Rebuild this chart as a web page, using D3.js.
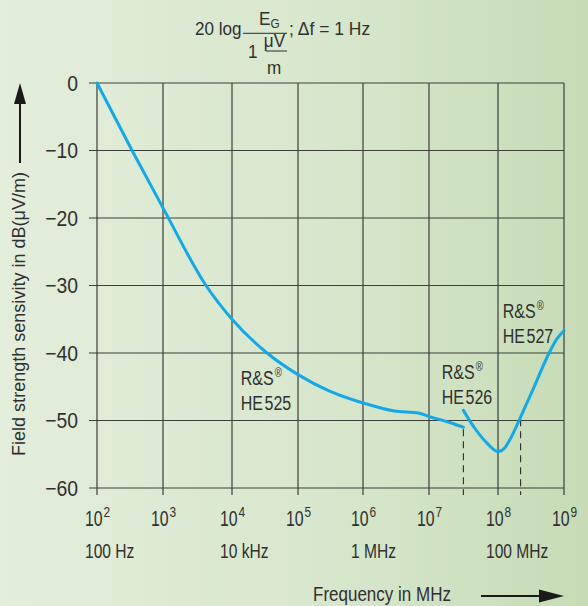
<!DOCTYPE html>
<html><head><meta charset="utf-8">
<script src="https://cdn.jsdelivr.net/npm/d3@7"></script>
<style>
html,body{margin:0;padding:0;}
body{width:588px;height:606px;overflow:hidden;}
text{font-family:"Liberation Sans","Arial",sans-serif;fill:#303030;}
</style></head><body><svg id="c" width="588" height="606"></svg>
<script>
// ---- data ----
const decadeFreqs = [1e2, 1e3, 1e4, 1e5, 1e6, 1e7, 1e8, 1e9];
const decadeExps  = ["2", "3", "4", "5", "6", "7", "8", "9"];
const unitFreqs   = [1e2, 1e4, 1e6, 1e8];
const unitTexts   = ["100 Hz", "10 kHz", "1 MHz", "100 MHz"];
const levelTicks  = [0, -10, -20, -30, -40, -50, -60];

const he525Freq  = [1e2, 3.4e2, 1e3, 4.2e3, 1e4, 3.4e4, 1e5, 3e5, 1e6, 3e6, 6.9e6, 1e7, 2e7, 3.15e7];
const he525Level = [0, -10, -18.5, -30, -35, -40, -43.2, -45.6, -47.4, -48.6, -48.9, -49.4, -50.3, -51];

const he526Freq  = [3.15e7, 4.5e7, 7e7, 1e8, 1.25e8, 1.6e8, 2.2e8, 3.5e8, 5.5e8, 7.8e8, 1e9];
const he526Level = [-48.5, -51, -53.4, -54.6, -54.1, -52.4, -49.5, -45.1, -40.7, -37.9, -36.7];

const boundaryFreq  = [3.15e7, 2.2e8];
const boundaryLevel = [-51, -49.5];

const labelName  = ["HE", "HE", "HE"];
const labelModel = ["525", "526", "527"];
const labelFreq  = [1.355e4, 1.53e7, 1.18e8];
const labelLevel = [-44.7, -43.85, -34.77];

// ---- scales ----
const x = d3.scaleLog().domain(decadeFreqs).range([97, 163, 232, 298, 363, 429, 498, 564]);
const y = d3.scaleLinear().domain([0, -60]).range([83, 488]);

const svg = d3.select("#c");
const defs = svg.append("defs");
const grad = defs.append("linearGradient").attr("id", "bg").attr("x1", "0").attr("x2", "1").attr("y1", "0").attr("y2", "0");
grad.append("stop").attr("offset", "0").attr("stop-color", "#e3eedb");
grad.append("stop").attr("offset", "0.6").attr("stop-color", "#d6e6cb");
grad.append("stop").attr("offset", "1").attr("stop-color", "#c6dbb6");
svg.append("rect").attr("width", 588).attr("height", 606).attr("fill", "url(#bg)");

// condensed text helper
function T(parent, tx, ty, str, size, sx, anchor) {
  const gg = parent.append("g").attr("transform", `translate(${tx},${ty}) scale(${sx},1)`);
  const t = gg.append("text").attr("font-size", size).attr("text-anchor", anchor || "start");
  if (str !== null) t.text(str);
  return t;
}

const gridCol = "#3c3f3a";
const g = svg.append("g");
g.selectAll("line.h").data(levelTicks).join("line")
  .attr("x1", x(1e2) - 8).attr("x2", x(1e9))
  .attr("y1", d => y(d)).attr("y2", d => y(d))
  .attr("stroke", gridCol).attr("stroke-width", 1.2);
g.selectAll("line.v").data(decadeFreqs).join("line")
  .attr("x1", d => x(d)).attr("x2", d => x(d))
  .attr("y1", y(0)).attr("y2", y(-60) + 7)
  .attr("stroke", gridCol).attr("stroke-width", 1.2);

// y tick labels
levelTicks.forEach(v => {
  T(svg, 78, y(v) + 7.9, v === 0 ? "0" : "\u2212" + Math.abs(v), 22, 0.88, "end");
});

// x tick labels
decadeFreqs.forEach((f, i) => {
  T(svg, x(f) - 12, 525.5, "10", 22, 0.72);
  T(svg, x(f) + 6.5, 517, decadeExps[i], 14, 0.85);
});
unitFreqs.forEach((f, i) => {
  T(svg, x(f) - 12, 558, unitTexts[i], 20, 0.78);
});

// boundary dashed lines
svg.selectAll("line.b").data(boundaryFreq).join("line")
  .attr("x1", d => x(d)).attr("x2", d => x(d))
  .attr("y1", (d, i) => y(boundaryLevel[i]) + 2).attr("y2", y(-60) + 7)
  .attr("stroke", "#2b2b2b").attr("stroke-width", 1.1).attr("stroke-dasharray", "7,5");

// curves
const line = d3.line().x(d => x(d[0])).y(d => y(d[1])).curve(d3.curveMonotoneX);
const curveCol = "#14a9e6";
svg.append("path").attr("d", line(he525Freq.map((f, i) => [f, he525Level[i]])))
  .attr("fill", "none").attr("stroke", curveCol).attr("stroke-width", 3).attr("stroke-linecap", "round");
svg.append("path").attr("d", line(he526Freq.map((f, i) => [f, he526Level[i]])))
  .attr("fill", "none").attr("stroke", curveCol).attr("stroke-width", 3).attr("stroke-linecap", "round");

// product labels
labelModel.forEach((m, i) => {
  const lx = x(labelFreq[i]), ly = y(labelLevel[i]);
  const t1 = T(svg, lx, ly, null, 20, 0.8);
  t1.append("tspan").text("R&S");
  t1.append("tspan").attr("font-size", 12).attr("dy", -8).attr("dx", 1.5).text("\u00AE");
  const t2 = T(svg, lx, ly + 25.5, null, 20, 0.8);
  t2.append("tspan").text(labelName[i]);
  t2.append("tspan").attr("dx", 2).text(m);
});

// title formula
const tt = svg.append("g");
T(tt, 195, 35, "20 log", 19, 0.9);
tt.append("line").attr("x1", 243).attr("x2", 287).attr("y1", 33.3).attr("y2", 33.3).attr("stroke", "#2b2b2b").attr("stroke-width", 1);
const eg = T(tt, 259, 25, null, 19, 0.9);
eg.append("tspan").text("E");
eg.append("tspan").attr("font-size", 13).attr("dy", 3).text("G");
T(tt, 289, 35, "; \u0394f = 1 Hz", 19, 0.92);
T(tt, 248, 57.5, "1", 19, 0.9);
T(tt, 274.5, 47, "\u03BCV", 19, 0.9, "middle");
tt.append("line").attr("x1", 266).attr("x2", 287).attr("y1", 51).attr("y2", 51).attr("stroke", "#2b2b2b").attr("stroke-width", 1);
T(tt, 274, 73.5, "m", 19, 0.9, "middle");

// axis titles
svg.append("g").attr("transform", "translate(25,456) rotate(-90) scale(0.95,1)")
  .append("text").attr("font-size", 19).text("Field strength sensivity in dB(\u03BCV/m)");
T(svg, 313, 601, "Frequency in MHz", 21, 0.81);

// arrows
svg.append("line").attr("x1", 20).attr("x2", 20).attr("y1", 163).attr("y2", 100).attr("stroke", "#1a1a1a").attr("stroke-width", 2);
svg.append("path").attr("d", "M20,83 L26,104 L14,104 Z").attr("fill", "#1a1a1a");
svg.append("line").attr("x1", 481).attr("x2", 545).attr("y1", 596).attr("y2", 596).attr("stroke", "#1a1a1a").attr("stroke-width", 2);
svg.append("path").attr("d", "M564,596 L539,589.5 L539,602.5 Z").attr("fill", "#1a1a1a");
</script></body></html>
